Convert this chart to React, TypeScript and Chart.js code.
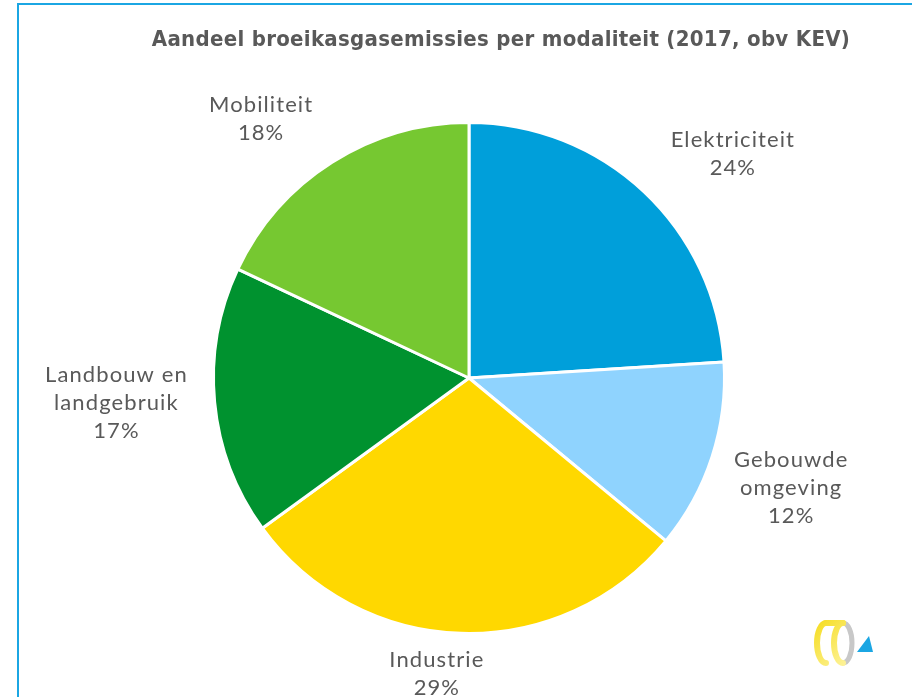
import React, { useEffect, useRef } from "react";
import { Chart, registerables } from "chart.js";

Chart.register(...registerables);

const categories = ["Elektriciteit", "Gebouwde omgeving", "Industrie", "Landbouw en landgebruik", "Mobiliteit"];
const labelLines = [["Elektriciteit"], ["Gebouwde", "omgeving"], ["Industrie"], ["Landbouw en", "landgebruik"], ["Mobiliteit"]];
const shares = [24, 12, 29, 17, 18];
const colors = ["#009FDA", "#8FD3FE", "#FFD800", "#00922F", "#76C831"];
// label placement: extra distance beyond the pie edge and angular shift (degrees)
const labelOffsets = [91, 85, 42, 98, 77];
const labelAngleShifts = [6.4, 0.9, 4.4, 1.3, -6.3];
const title = "Aandeel broeikasgasemissies per modaliteit (2017, obv KEV)";

const labelPlugin = {
  id: "pieLabels",
  afterDraw(chart: any) {
    const ctx = chart.ctx;
    const meta = chart.getDatasetMeta(0);
    ctx.save();
    ctx.font = "22px Lato";
    (ctx as any).letterSpacing = "1.1px";
    ctx.fillStyle = "#595959";
    ctx.textAlign = "center";
    ctx.textBaseline = "middle";
    const lineH = 28;
    meta.data.forEach((arc: any, i: number) => {
      const { x, y, startAngle, endAngle, outerRadius } = arc.getProps(["x", "y", "startAngle", "endAngle", "outerRadius"], true);
      const mid = (startAngle + endAngle) / 2 + (labelAngleShifts[i] * Math.PI) / 180;
      const lines = [...labelLines[i], shares[i] + "%"];
      const h = lines.length * lineH;
      const r = outerRadius + labelOffsets[i];
      const cx = x + Math.cos(mid) * r;
      const cy = y + Math.sin(mid) * r;
      lines.forEach((l, k) => {
        ctx.fillText(l, cx, cy - h / 2 + lineH / 2 + k * lineH);
      });
    });
    // title
    ctx.font = "bold 22px 'DejaVu Sans Condensed'";
    (ctx as any).letterSpacing = "0.3px";
    ctx.fillStyle = "#595959";
    ctx.fillText(title, 501, 40);
    (ctx as any).letterSpacing = "0px";

    // logo (decorative)
    ctx.lineCap = "round";
    const grad = ctx.createLinearGradient(815, 620, 860, 665);
    grad.addColorStop(0, "#F5DC1E");
    grad.addColorStop(1, "#FFF7B0");
    ctx.strokeStyle = "#C8C8C8";
    ctx.lineWidth = 5;
    ctx.beginPath();
    ctx.ellipse(843, 643, 9, 20, 0, -Math.PI / 2, Math.PI / 2);
    ctx.stroke();
    ctx.strokeStyle = grad;
    ctx.lineWidth = 6;
    ctx.beginPath();
    ctx.ellipse(826, 643, 9, 20, 0, Math.PI / 2, Math.PI * 1.5);
    ctx.stroke();
    ctx.beginPath();
    ctx.ellipse(843, 643, 9, 20, 0, Math.PI / 2, Math.PI * 1.5);
    ctx.stroke();
    ctx.beginPath();
    ctx.moveTo(826, 623);
    ctx.lineTo(843, 623);
    ctx.stroke();
    ctx.fillStyle = "#1BA6E3";
    ctx.beginPath();
    ctx.moveTo(857, 652);
    ctx.lineTo(873, 652);
    ctx.lineTo(869, 636);
    ctx.closePath();
    ctx.fill();
    ctx.restore();
  },
};

export default function App() {
  const ref = useRef<HTMLCanvasElement>(null);
  useEffect(() => {
    const chart = new Chart(ref.current!, {
      type: "pie",
      data: {
        labels: categories,
        datasets: [
          {
            data: shares,
            backgroundColor: colors,
            borderColor: "#ffffff",
            borderWidth: 3,
          },
        ],
      },
      options: {
        responsive: false,
        animation: false,
        layout: { padding: { left: 212, right: 186, top: 121, bottom: 62 } },
        plugins: {
          legend: { display: false },
          tooltip: { enabled: false },
          title: { display: false },
        },
      },
      plugins: [labelPlugin],
    });
    return () => chart.destroy();
  }, []);
  return (
    <div style={{ position: "fixed", left: 0, top: 0, width: 912, height: 697, overflow: "hidden", background: "#fff" }}>
      <div
        style={{
          position: "absolute",
          left: 17,
          top: 3,
          width: 1000,
          height: 1000,
          border: "2px solid #1BA6E3",
        }}
      />
      <canvas ref={ref} width={912} height={697} style={{ position: "absolute", left: 0, top: 0 }} />
    </div>
  );
}
